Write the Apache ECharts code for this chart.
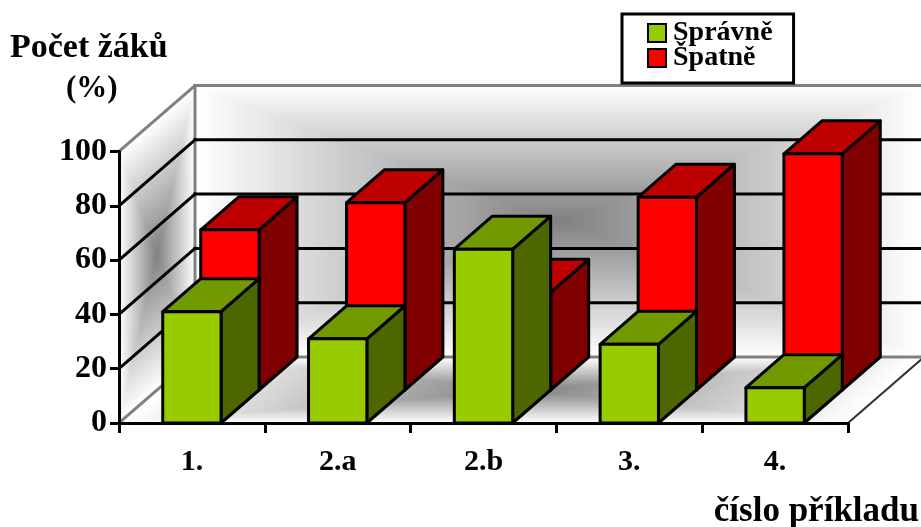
<!DOCTYPE html>
<html>
<head>
<meta charset="utf-8">
<style>html,body{margin:0;padding:0;background:#fff}#chart{width:921px;height:527px}</style>
<script src="https://cdn.jsdelivr.net/npm/echarts@6/dist/echarts.min.js"></script>
</head>
<body>
<div id="chart"></div>
<script>
// Pass rate by exercise, in percent of pupils
const categories = ['1.', '2.a', '2.b', '3.', '4.'];
const spravne = [41, 31, 64, 29, 13];
const spatne = [59, 69, 36, 71, 87];
const yTicks = [0, 20, 40, 60, 80, 100];

const FONT = '"Liberation Serif", serif';
// Oblique projection: pixel shift of one full chart depth
const DEPTH_X = 76;
const DEPTH_Y = -66;
const BAR_WIDTH = 0.4;
const WALL_STEPS = 60;
const STROKE = 3;

const chart = echarts.init(document.getElementById('chart'), null, { renderer: 'canvas' });

function shade(t) {
  // t = 0 at a wall's edge, 1 at its centre
  const v = Math.round(255 - 127 * t);
  return `rgb(${v},${v},${v})`;
}

// Nested copies of a quadrilateral shrinking to its centre give a rectangular path gradient
function wallFill(corners) {
  const cx = corners.reduce((s, p) => s + p[0], 0) / 4;
  const cy = corners.reduce((s, p) => s + p[1], 0) / 4;
  const out = [];
  for (let i = 0; i < WALL_STEPS; i++) {
    const t = i / WALL_STEPS;
    out.push({
      type: 'polygon',
      silent: true,
      shape: { points: corners.map(p => [p[0] + (cx - p[0]) * t, p[1] + (cy - p[1]) * t]) },
      style: { fill: shade(t), stroke: null }
    });
  }
  return out;
}

function line(a, b, color, width) {
  return {
    type: 'line',
    silent: true,
    shape: { x1: a[0], y1: a[1], x2: b[0], y2: b[1] },
    style: { stroke: color, lineWidth: width || STROKE, lineCap: 'square' }
  };
}

function renderWalls(params, api) {
  const lastCat = categories.length - 1;
  const band = api.size([1, 0])[0];
  const x0 = api.coord([0, 0])[0] - band / 2;
  const x1 = api.coord([lastCat, 0])[0] + band / 2;
  const y0 = api.coord([0, 0])[1];
  const yTop = api.coord([0, 100])[1];
  const back = (p) => [p[0] + DEPTH_X, p[1] + DEPTH_Y];

  const frontL0 = [x0, y0], frontLT = [x0, yTop], frontR0 = [x1, y0];
  const backL0 = back(frontL0), backLT = back(frontLT), backR0 = back(frontR0);
  const backRT = [backR0[0], backLT[1]];

  const children = [
    ...wallFill([backLT, backRT, backR0, backL0]),
    ...wallFill([frontLT, backLT, backL0, frontL0]),
    ...wallFill([backL0, backR0, frontR0, frontL0])
  ];
  const grey = '#808080';
  children.push(line(frontLT, backLT, grey), line(backLT, backRT, grey),
    line(backLT, backL0, grey), line(frontL0, backL0, grey), line(backL0, backR0, grey),
    line(frontR0, backR0, '#333', 2));
  yTicks.slice(1, -1).forEach(v => {
    const y = api.coord([0, v])[1];
    children.push(line([x0, y], back([x0, y]), '#000'));
    children.push(line(back([x0, y]), back([x1, y]), '#000'));
  });
  return { type: 'group', children };
}

function face(points, fill) {
  return {
    type: 'polygon',
    shape: { points },
    style: { fill, stroke: '#000', lineWidth: STROKE, lineJoin: 'round' }
  };
}

// A box standing on the floor between the depth fractions `from` and `from + 0.5`
function boxRenderer(from, front, top, side) {
  return function (params, api) {
    const cat = api.value(0);
    const base = api.coord([cat, 0]);
    const head = api.coord([cat, api.value(1)]);
    const w = api.size([1, 0])[0] * BAR_WIDTH;
    const ox = DEPTH_X * from, oy = DEPTH_Y * from;
    const dx = DEPTH_X / 2, dy = DEPTH_Y / 2;
    const l = base[0] - w / 2 + ox, r = base[0] + w / 2 + ox;
    const b = base[1] + oy, t = head[1] + oy;
    return {
      type: 'group',
      children: [
        face([[r, b], [r + dx, b + dy], [r + dx, t + dy], [r, t]], side),
        face([[l, t], [r, t], [r + dx, t + dy], [l + dx, t + dy]], top),
        face([[l, b], [r, b], [r, t], [l, t]], front)
      ]
    };
  };
}

const labelStyle = { color: '#000', fontFamily: FONT, fontWeight: 'bold', fontSize: 30 };
const titleStyle = { color: '#000', fontFamily: FONT, fontWeight: 'bold', fontSize: 34 };

chart.setOption({
  animation: false,
  backgroundColor: '#fff',
  title: [
    { text: 'Počet žáků', left: 10, top: 31, padding: 0, textStyle: titleStyle },
    { text: '(%)', left: 66, top: 73, padding: 0, textStyle: { ...titleStyle, fontSize: 31 } },
    { text: 'číslo příkladu', right: 2, top: 494, padding: 0, textStyle: { ...titleStyle, fontSize: 35 } }
  ],
  legend: {
    orient: 'vertical',
    left: 622,
    top: 14,
    padding: [5, 21, 11, 25],
    itemWidth: 18,
    itemHeight: 18,
    itemGap: -3,
    borderColor: '#000',
    borderWidth: 3,
    backgroundColor: '#fff',
    icon: 'rect',
    selectedMode: false,
    data: ['Správně', 'Špatně'],
    textStyle: { color: '#000', fontFamily: FONT, fontWeight: 'bold', fontSize: 28, lineHeight: 18, padding: [0, 0, 0, 2] }
  },
  grid: { left: 119, top: 151.5, width: 729, height: 271.5 },
  xAxis: {
    type: 'category',
    data: categories,
    z: 5,
    axisLine: { lineStyle: { color: '#000', width: STROKE } },
    axisTick: { show: true, length: 10, lineStyle: { color: '#000', width: STROKE } },
    axisLabel: { ...labelStyle, margin: 24 },
    splitLine: { show: false }
  },
  yAxis: {
    type: 'value',
    min: 0,
    max: 100,
    interval: 20,
    z: 5,
    axisLine: { show: true, lineStyle: { color: '#000', width: STROKE } },
    axisTick: { show: true, length: 9, lineStyle: { color: '#000', width: STROKE } },
    axisLabel: { ...labelStyle, fontSize: 32, margin: 12, padding: [3, 0, 0, 0] },
    splitLine: { show: false }
  },
  series: [
    {
      name: 'walls',
      type: 'custom',
      z: 1,
      silent: true,
      renderItem: renderWalls,
      data: [[0, 0]],
      encode: { x: 0, y: 1 }
    },
    {
      name: 'Špatně',
      type: 'custom',
      z: 2,
      itemStyle: { color: '#ff0000', borderColor: '#000', borderWidth: 3 },
      renderItem: boxRenderer(0.5, '#ff0000', '#bf0000', '#800000'),
      data: spatne.map((v, i) => [i, v]),
      encode: { x: 0, y: 1 }
    },
    {
      name: 'Správně',
      type: 'custom',
      z: 3,
      itemStyle: { color: '#99cc00', borderColor: '#000', borderWidth: 3 },
      renderItem: boxRenderer(0, '#99cc00', '#739900', '#4d6600'),
      data: spravne.map((v, i) => [i, v]),
      encode: { x: 0, y: 1 }
    }
  ]
});
</script>
</body>
</html>
